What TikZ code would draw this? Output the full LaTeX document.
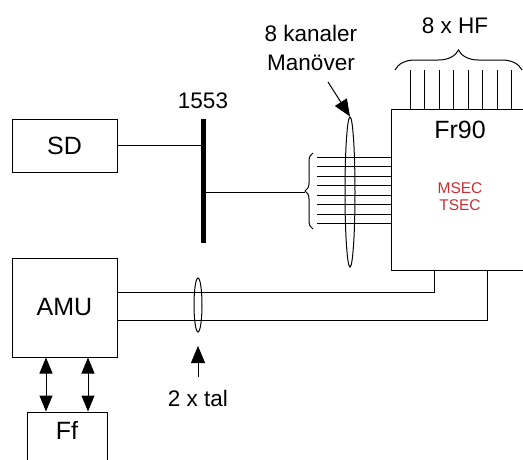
\documentclass[tikz,border=0pt]{standalone}
\usepackage{fontspec}
\setmainfont{Liberation Sans}
\usetikzlibrary{arrows.meta,decorations.pathreplacing,shapes.geometric}
\definecolor{secred}{RGB}{205,45,50}
\begin{document}
\begin{tikzpicture}[x=1pt,y=-1pt,
  box/.style={draw,line width=1pt,inner sep=0pt,font=\fontsize{25}{30}\selectfont},
  lbl/.style={inner sep=0pt,font=\fontsize{22.5}{29}\selectfont,align=center},
  wire/.style={line width=1pt},
  tipA/.style={-{Triangle[length=17pt,width=14pt]}},
  dbl/.style={{Triangle[length=16pt,width=13pt]}-{Triangle[length=16pt,width=13pt]}},
  oval/.style={draw,ellipse,line width=1pt,inner sep=0pt}
]
\useasboundingbox (0,0) rectangle (523,459);
% boxes
\node[box,minimum width=105pt,minimum height=53pt] (SD) at (64.5,145.5) {SD};
\node[box,minimum width=105pt,minimum height=99pt] (AMU) at (64.5,307.5) {AMU};
\node[box,minimum width=80pt,minimum height=60pt] (Ff) at (67,442) {};
\node[lbl,font=\fontsize{25}{30}\selectfont] (FfL) at (67,430) {Ff};
\node[box,minimum width=150pt,minimum height=161pt] (Fr) at (466,189.5) {};
\node[lbl,font=\fontsize{25}{30}\selectfont] (FrL) at (460,130) {Fr90};
\node[lbl,font=\fontsize{15.5}{17}\selectfont,text=secred] (sec) at (460,196.5) {MSEC\\TSEC};
% bus
\node[fill,inner sep=0pt,minimum width=5pt,minimum height=124pt] (bus) at (203,181) {};
\node[lbl] (b1553) at (203,101) {1553};
% SD to bus
\draw[wire] (SD.east) -- (SD.east -| bus.center);
% bus to brace
\coordinate (bt) at (305,192);
\draw[wire] (bus.center |- bt) -- (bt);
\draw[wire,decorate,decoration={brace,amplitude=8pt}] (313,229) -- (313,153);
% 8 channels
\foreach \i in {0,...,7}{
  \coordinate (h\i) at (317,{157+\i*9.57});
  \draw[wire] (h\i) -- (h\i -| Fr.west);
}
\node[oval,minimum width=10pt,minimum height=150pt] (ell) at (350,192) {};
\node[lbl] (kan) at (311,47.5) {8 kanaler\\Manöver};
\coordinate (ka) at (328,82);
\draw[wire,tipA] (ka) -- (ell.north);
% HF
\foreach \i in {0,...,7}{
  \coordinate (v\i) at ({410+\i*14.5},70);
  \draw[wire] (v\i) -- (v\i |- Fr.north);
}
\draw[wire,decorate,decoration={brace,amplitude=20pt}] (395,70) -- (522,70);
\node[lbl] (hf) at (455,26) {8 x HF};
% AMU to Fr90
\coordinate (c1) at (434,292);
\coordinate (c2) at (487,320);
\draw[wire] (c1 -| AMU.east) -- (c1) -- (c1 |- Fr.south);
\draw[wire] (c2 -| AMU.east) -- (c2) -- (c2 |- Fr.south);
\node[oval,minimum width=8pt,minimum height=54pt] (ell2) at (198,305) {};
\node[lbl] (tal) at (198,398) {2 x tal};
\coordinate (t0) at (198,377);
\coordinate (t1) at (198,346);
\draw[wire,tipA] (t0) -- (t1);
% AMU - Ff
\coordinate (d1) at (46,0);
\coordinate (d2) at (88,0);
\draw[wire,dbl] (d1 |- AMU.south) -- (d1 |- Ff.north);
\draw[wire,dbl] (d2 |- AMU.south) -- (d2 |- Ff.north);
\end{tikzpicture}
\end{document}
